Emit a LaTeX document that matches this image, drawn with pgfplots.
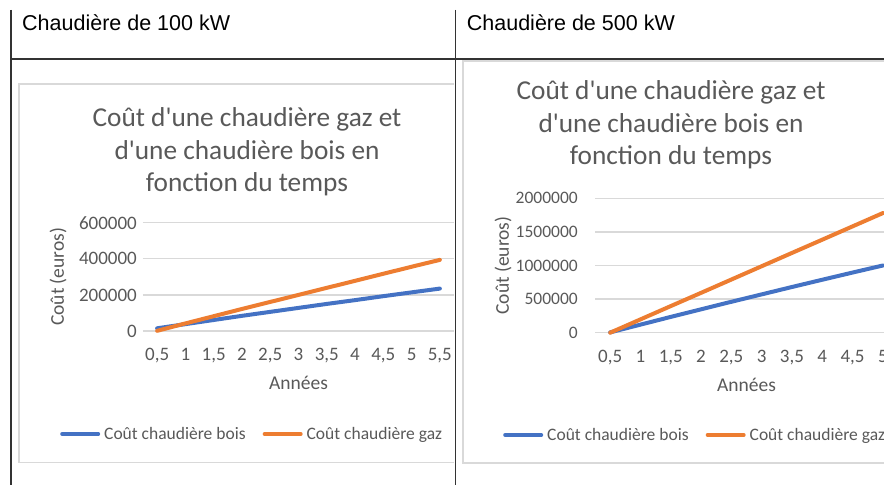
\documentclass[border=0pt]{standalone}
\usepackage{fontspec}
\setmainfont{Carlito}[Ligatures=TeXOff]
\newfontfamily\headfont{Liberation Sans}
\usepackage{pgfplots}
\pgfplotsset{compat=1.18}
\definecolor{xlblue}{HTML}{4472C4}
\definecolor{xlorange}{HTML}{ED7D31}
\definecolor{txtgray}{HTML}{595959}
\definecolor{gridgray}{HTML}{D9D9D9}
\definecolor{tblline}{HTML}{333333}

\pgfplotsset{
  excelchart/.style={
    scale only axis,
    axis line style={draw=none},
    major tick length=0pt,
    scaled y ticks=false,
    ymajorgrids,
    grid style={gridgray, line width=1.3pt},
    tick label style={font=\fontsize{19}{19}\selectfont, text=txtgray},
    xticklabel style={inner sep=0pt, anchor=north, yshift=-17pt},
    yticklabel style={inner sep=0pt, anchor=east},
    xtick={0.5,1,1.5,2,2.5,3,3.5,4,4.5,5,5.5},
    xticklabels={{0,5},1,{1,5},2,{2,5},3,{3,5},4,{4,5},5,{5,5}},
    xlabel={Années}, ylabel={Coût (euros)},
    every axis x label/.style={at={(rel axis cs:0.5,0)}, anchor=center, yshift=-52pt,
      font=\fontsize{19.5}{19.5}\selectfont, text=txtgray},
    clip=false,
    legend columns=2,
    legend style={draw=none, fill=none, inner sep=0pt, anchor=west,
      font=\fontsize{17.5}{17.5}\selectfont, text=txtgray,
      /tikz/every even column/.append style={column sep=15pt},
      /tikz/every odd column/.append style={column sep=2pt}},
    legend image code/.code={\draw[#1, line width=4pt, line cap=round] (2pt,0pt) -- (38pt,0pt);},
    legend cell align=left,
  },
  bois/.style={xlblue, line width=4pt, line cap=round, line join=round},
  gaz/.style={xlorange, line width=4pt, line cap=round, line join=round},
}

\begin{document}
\begin{tikzpicture}[x=1pt,y=1pt]
\useasboundingbox (0,0) rectangle (884,485);
\clip (0,0) rectangle (884,485);
\fill[white] (0,0) rectangle (884,485);

% chart boxes
\draw[gridgray, line width=1.3pt] (454,401) -- (19,401) -- (19,22.3) -- (454,22.3);
\draw[gridgray, line width=1.3pt] (890,424) -- (463,424) -- (463,22) -- (890,22);

% table lines
\draw[tblline, line width=1.3pt] (11,475) -- (11,0);
\draw[tblline, line width=1.3pt] (455.5,475) -- (455.5,0);
\draw[tblline, line width=1.3pt] (11,426) -- (884,426);

% headers
\node[anchor=base west, inner sep=0pt, font=\headfont\fontsize{21.5}{21.5}\selectfont] at (22,454.5) {Chaudière de 100 kW};
\node[anchor=base west, inner sep=0pt, font=\headfont\fontsize{21.5}{21.5}\selectfont] at (466.7,454.5) {Chaudière de 500 kW};

% titles
\begin{scope}[every node/.style={anchor=base, inner sep=0pt, text=txtgray, font=\fontsize{27.3}{27.3}\selectfont}]
\node at (247,358) {Coût d'une chaudière gaz et};
\node at (247,325.5) {d'une chaudière bois en};
\node at (247,293) {fonction du temps};
\node at (671,385) {Coût d'une chaudière gaz et};
\node at (671,352.5) {d'une chaudière bois en};
\node at (671,320) {fonction du temps};
\end{scope}

% left chart (100 kW)
\begin{axis}[excelchart,
  at={(143pt,154pt)}, anchor=south west,
  width=311pt, height=108.3pt,
  xmin=0.25, xmax=5.75, ymin=0, ymax=600000,
  ytick={0,200000,400000,600000},
  yticklabels={0,200000,400000,600000},
  yticklabel style={xshift=-6pt},
  every axis y label/.style={at={(rel axis cs:0,0.5)}, xshift=-85pt, rotate=90, anchor=center,
    font=\fontsize{19.5}{19.5}\selectfont, text=txtgray},
  legend style={at={(-0.2669,-0.951)}},
]
\addplot[bois] coordinates {(0.5,15000) (1,38000) (1.5,61000) (2,84000) (2.5,106000) (3,128000) (3.5,150000) (4,171000) (4.5,193000) (5,214000) (5.5,235000)};
\addlegendentry{Coût chaudière bois}
\addplot[gaz] coordinates {(0.5,1000) (1,42000) (1.5,82000) (2,122000) (2.5,161000) (3,200000) (3.5,239000) (4,278000) (4.5,317000) (5,356000) (5.5,394000)};
\addlegendentry{Coût chaudière gaz}
\end{axis}

% right chart (500 kW)
\begin{axis}[excelchart,
  at={(595pt,152.3pt)}, anchor=south west,
  width=303pt, height=134.4pt,
  xmin=0.25, xmax=5.25, ymin=0, ymax=2000000,
  ytick={0,500000,1000000,1500000,2000000},
  yticklabels={0,500000,1000000,1500000,2000000},
  yticklabel style={xshift=-17pt, font=\fontsize{17.5}{17.5}\selectfont},
  every axis y label/.style={at={(rel axis cs:0,0.5)}, xshift=-92pt, rotate=90, anchor=center,
    font=\fontsize{19.5}{19.5}\selectfont, text=txtgray},
  legend style={at={(-0.3036,-0.761)}},
]
\addplot[bois] coordinates {(0.5,5000) (1,120000) (1.5,235000) (2,348000) (2.5,460000) (3,570000) (3.5,680000) (4,788000) (4.5,895000) (5,1000000)};
\addlegendentry{Coût chaudière bois}
\addplot[gaz] coordinates {(0.5,0) (1,198000) (1.5,396000) (2,593000) (2.5,791000) (3,989000) (3.5,1187000) (4,1384000) (4.5,1582000) (5,1780000)};
\addlegendentry{Coût chaudière gaz}
\end{axis}
\end{tikzpicture}
\end{document}
